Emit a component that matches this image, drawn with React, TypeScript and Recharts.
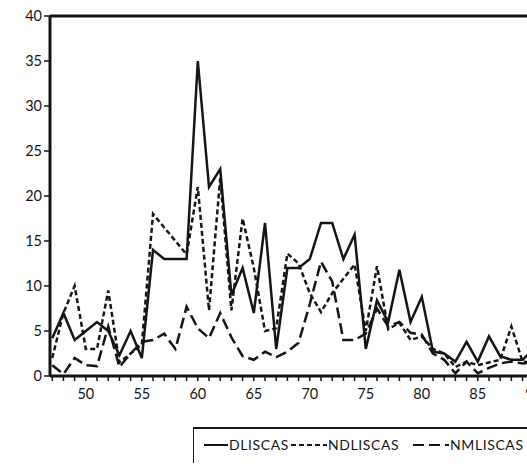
import React from "react";
import { LineChart, Line, XAxis, YAxis, ReferenceLine, Legend } from "recharts";

const years = [
  47, 48, 49, 50, 51, 52, 53, 54, 55, 56, 57, 58, 59, 60, 61, 62, 63, 64, 65, 66, 67, 68,
  69, 70, 71, 72, 73, 74, 75, 76, 77, 78, 79, 80, 81, 82, 83, 84, 85, 86, 87, 88, 89, 90,
];

const dliscas = [
  4.2, 7, 4, 5, 6, 5, 2.3, 5, 2, 14, 13, 13, 13, 35, 21, 23, 9, 12, 7, 17, 3, 12,
  12, 13, 17, 17, 13, 15.7, 3, 8.4, 6, 11.8, 6, 8.8, 2.7, 2.5, 1.6, 3.8, 1.6, 4.4, 2.2, 1.8, 1.8, 3,
];

const ndliscas = [
  2, 7, 10, 3, 3, 9.5, 1.5, 2.5, 3.5, 18, 16.5, 15, 13.5, 21, 7.3, 22, 7.3, 17.5, 12, 5, 5.3, 13.6,
  12.5, 9.2, 7.1, 9.2, 10.8, 12.4, 5, 12.2, 5.2, 5.9, 4, 4.4, 3, 2.5, 1, 1.6, 1.2, 1.5, 1.8, 5.5, 1.6, 1.5,
];

const nmliscas = [
  1.2, 0.2, 2, 1.2, 1.1, 5.5, 1, 2.5, 3.8, 4, 4.7, 3, 7.7, 5.3, 4.2, 7, 4.3, 2.2, 1.8, 2.7, 2.1, 2.7,
  3.7, 8, 12.7, 10.5, 4, 4, 4.7, 7.5, 5.5, 6, 4.8, 4.6, 2.5, 1.8, 0.3, 1.6, 0.3, 0.9, 1.4, 1.6, 1.4, 1.5,
];

const yTicks = [0, 5, 10, 15, 20, 25, 30, 35, 40];

const data = years.map((yr, i) => ({
  year: yr,
  DLISCAS: dliscas[i],
  NDLISCAS: ndliscas[i],
  NMLISCAS: nmliscas[i],
}));

const ink = "#151515";
const font = "Lato, 'Open Sans', sans-serif";

// legend sample widths and left offsets (relative to the box)
const itemLayout = [
  { left: 10, sample: 24 },
  { left: 97, sample: 36 },
  { left: 219, sample: 36 },
];

function LegendBox(props: any) {
  const payload = props.payload || [];
  return (
    <div
      style={{
        position: "relative",
        width: 420,
        height: 34,
        borderTop: `2px solid ${ink}`,
        borderLeft: `1.5px solid ${ink}`,
        fontFamily: font,
        fontSize: 14,
        letterSpacing: 0.6,
        color: ink,
      }}
    >
      {payload.map((entry: any, i: number) => {
        const lay = itemLayout[i];
        return (
          <div
            key={entry.value}
            style={{ position: "absolute", left: lay.left, top: 7, display: "flex", alignItems: "center" }}
          >
            <svg width={lay.sample} height={14}>
              <line
                x1={0}
                y1={7}
                x2={lay.sample}
                y2={7}
                stroke={ink}
                strokeWidth={2}
                strokeDasharray={entry.payload?.strokeDasharray}
              />
            </svg>
            <span style={{ marginLeft: 1 }}>{entry.value}</span>
          </div>
        );
      })}
    </div>
  );
}

export default function App() {
  return (
    <div
      style={{
        position: "absolute",
        left: 0,
        top: 0,
        width: 527,
        height: 464,
        overflow: "hidden",
        background: "#fff",
      }}
    >
      <LineChart width={600} height={464} data={data} margin={{ top: 16, right: 64, left: 0, bottom: 58 }}>
        <XAxis
          dataKey="year"
          type="number"
          domain={[46.8, 90.2]}
          ticks={years}
          interval={0}
          tickFormatter={(v) => (v % 5 === 0 ? String(v) : "")}
          axisLine={{ stroke: ink, strokeWidth: 3 }}
          tickLine={{ stroke: ink, strokeWidth: 1.5 }}
          tickSize={5}
          tickMargin={8}
          height={30}
          tick={{ fontSize: 14.5, fill: ink, fontFamily: font }}
          allowDataOverflow
        />
        <YAxis
          domain={[0, 40]}
          ticks={yTicks}
          interval={0}
          width={50}
          axisLine={{ stroke: ink, strokeWidth: 3 }}
          tickLine={{ stroke: ink, strokeWidth: 1.5 }}
          tickSize={6}
          tickMargin={2}
          tick={{ fontSize: 14.5, fill: ink, fontFamily: font }}
        />
        <ReferenceLine y={40} stroke={ink} strokeWidth={3} />
        <Legend
          content={<LegendBox />}
          layout="vertical"
          align="center"
          verticalAlign="middle"
          wrapperStyle={{ left: 193, top: 427, width: 420 }}
        />
        <Line
          dataKey="DLISCAS"
          stroke={ink}
          strokeWidth={2.5}
          dot={false}
          type="linear"
          isAnimationActive={false}
        />
        <Line
          dataKey="NDLISCAS"
          stroke={ink}
          strokeWidth={2.5}
          strokeDasharray="5 3"
          dot={false}
          type="linear"
          isAnimationActive={false}
        />
        <Line
          dataKey="NMLISCAS"
          stroke={ink}
          strokeWidth={2.5}
          strokeDasharray="11 5"
          dot={false}
          type="linear"
          isAnimationActive={false}
        />
      </LineChart>
    </div>
  );
}
